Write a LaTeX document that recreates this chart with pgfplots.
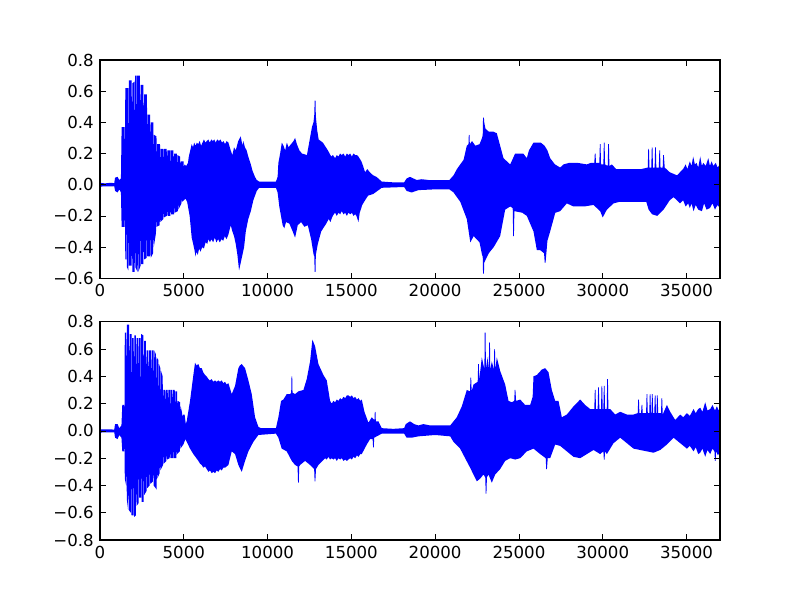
\documentclass[border=0pt]{standalone}
\usepackage{fontspec}
\setmainfont{DejaVu Sans}
\usepackage{pgfplots}
\usepgfplotslibrary{fillbetween}
\pgfplotsset{compat=1.18}
\usepackage{pgfplotstable}
\definecolor{mblue}{rgb}{0,0,1}

\pgfplotstableread{
x y
0 0.012
300 0.008
600 0.012
850 0.01
900 0.045
1050 0.05
1150 0.03
1250 0.04
1290 0.37
1470 0.37
1490 0.15
1510 0.62
1690 0.62
1710 0.20
1730 0.67
1890 0.67
1910 0.22
1930 0.65
2050 0.66
2070 0.25
2090 0.70
2170 0.70
2190 0.25
2200 0.70
2380 0.70
2400 0.25
2420 0.64
2590 0.64
2610 0.25
2630 0.58
2800 0.58
2820 0.22
2840 0.45
2990 0.45
3010 0.20
3030 0.40
3180 0.40
3200 0.18
3220 0.32
3370 0.31
3390 0.15
3410 0.26
3580 0.26
3600 0.12
3620 0.23
3780 0.23
3800 0.12
3820 0.23
3980 0.23
4000 0.12
4020 0.22
4180 0.22
4200 0.11
4220 0.22
4380 0.22
4400 0.10
4420 0.20
4580 0.20
4600 0.10
4620 0.19
4780 0.18
4800 0.09
4820 0.15
4990 0.15
5010 0.07
5030 0.13
5150 0.12
5250 0.14
5300 0.18
5473 0.26
5550 0.24
5620 0.27
5700 0.25
5780 0.27
5860 0.26
5950 0.28
6030 0.25
6120 0.27
6200 0.29
6290 0.27
6370 0.28
6467 0.29
6550 0.27
6640 0.29
6730 0.28
6820 0.29
6900 0.27
7000 0.29
7100 0.28
7190 0.29
7280 0.27
7370 0.28
7460 0.26
7560 0.28
7662 0.27
7800 0.22
7900 0.19
8000 0.24
8100 0.22
8250 0.28
8398 0.31
8500 0.25
8550 0.28
8650 0.24
8750 0.22
8850 0.18
9000 0.13
9100 0.09
9250 0.05
9354 0.03
9500 0.02
10000 0.02
10500 0.02
10600 0.05
10646 0.14
10750 0.20
10850 0.27
10950 0.25
11050 0.22
11150 0.27
11250 0.24
11400 0.26
11550 0.28
11642 0.30
11750 0.26
11900 0.22
12050 0.20
12350 0.19
12500 0.28
12650 0.37
12740 0.40
12790 0.45
12810 0.54
12860 0.54
12880 0.44
12960 0.35
13050 0.29
13300 0.27
13600 0.22
13700 0.20
13800 0.18
13900 0.19
14030 0.17
14130 0.19
14230 0.18
14330 0.20
14430 0.19
14530 0.20
14630 0.18
14730 0.20
14830 0.19
14930 0.20
15030 0.18
15130 0.20
15230 0.19
15330 0.19
15423 0.18
15600 0.15
15700 0.12
15821 0.08
15950 0.10
16100 0.08
16300 0.06
16500 0.05
16816 0.02
17500 0.015
18150 0.015
18300 0.04
18500 0.05
18700 0.04
18900 0.03
19200 0.035
19600 0.03
20000 0.03
20400 0.03
20850 0.03
21100 0.06
21300 0.10
21700 0.16
21890 0.25
21990 0.26
22010 0.32
22050 0.32
22070 0.26
22200 0.28
22400 0.25
22650 0.26
22800 0.30
22840 0.32
22860 0.43
22910 0.43
22930 0.40
23000 0.36
23200 0.34
23480 0.34
23680 0.33
23880 0.25
24080 0.17
24280 0.15
24480 0.13
24775 0.20
25000 0.20
25260 0.20
25470 0.17
25600 0.22
25870 0.27
26300 0.27
26530 0.25
26700 0.22
26865 0.17
27150 0.13
27460 0.11
27660 0.13
28000 0.14
28500 0.14
29050 0.13
29300 0.14
29500 0.14
29530 0.20
29570 0.20
29600 0.14
29800 0.14
29830 0.26
29870 0.26
29900 0.13
30040 0.13
30070 0.27
30110 0.27
30140 0.13
30300 0.12
30330 0.26
30370 0.26
30400 0.12
30550 0.13
30800 0.10
31500 0.10
32300 0.10
32690 0.11
32720 0.23
32760 0.23
32790 0.11
32900 0.11
32930 0.24
32970 0.24
33000 0.11
33100 0.11
33130 0.24
33170 0.24
33200 0.11
33350 0.11
33380 0.22
33420 0.22
33450 0.11
33580 0.11
33610 0.19
33650 0.19
33700 0.11
34000 0.08
34430 0.06
34800 0.10
34950 0.13
35050 0.10
35200 0.15
35300 0.12
35400 0.18
35500 0.13
35600 0.14
35700 0.11
35820 0.18
35920 0.12
36000 0.14
36150 0.12
36300 0.17
36400 0.12
36500 0.15
36600 0.12
36750 0.14
36850 0.11
37000 0.13
}\topU

\pgfplotstableread{
x y
0 -0.012
850 -0.01
900 -0.04
1050 -0.05
1150 -0.03
1250 -0.05
1290 -0.27
1470 -0.27
1490 -0.15
1510 -0.48
1570 -0.48
1590 -0.20
1610 -0.53
1690 -0.55
1710 -0.22
1730 -0.52
1890 -0.52
1910 -0.25
1930 -0.56
2070 -0.56
2090 -0.25
2110 -0.53
2250 -0.56
2270 -0.25
2290 -0.56
2420 -0.52
2440 -0.25
2460 -0.51
2590 -0.51
2610 -0.25
2630 -0.48
2780 -0.47
2800 -0.24
2820 -0.46
2990 -0.46
3010 -0.22
3030 -0.47
3170 -0.44
3190 -0.22
3210 -0.40
3340 -0.31
3360 -0.20
3380 -0.27
3560 -0.26
3580 -0.18
3600 -0.24
3780 -0.22
3800 -0.15
3820 -0.21
3990 -0.20
4010 -0.14
4030 -0.20
4200 -0.20
4220 -0.13
4240 -0.19
4420 -0.19
4440 -0.12
4460 -0.18
4640 -0.17
4660 -0.11
4680 -0.16
4860 -0.12
4880 -0.08
4900 -0.11
5100 -0.09
5200 -0.11
5350 -0.20
5473 -0.34
5560 -0.38
5640 -0.42
5700 -0.46
5760 -0.43
5830 -0.45
5920 -0.41
6000 -0.43
6100 -0.40
6200 -0.41
6300 -0.37
6400 -0.38
6467 -0.35
6560 -0.37
6650 -0.35
6750 -0.37
6850 -0.34
6950 -0.37
7050 -0.35
7150 -0.37
7250 -0.35
7350 -0.36
7450 -0.33
7550 -0.35
7662 -0.32
7800 -0.26
7900 -0.30
8000 -0.33
8100 -0.38
8200 -0.45
8300 -0.55
8400 -0.50
8500 -0.45
8600 -0.40
8700 -0.30
8850 -0.22
9000 -0.17
9150 -0.10
9354 -0.04
9500 -0.02
10500 -0.02
10600 -0.05
10700 -0.14
10900 -0.26
11000 -0.28
11100 -0.24
11300 -0.25
11500 -0.30
11642 -0.34
11800 -0.26
12000 -0.24
12200 -0.27
12400 -0.26
12600 -0.35
12750 -0.45
12790 -0.46
12810 -0.56
12860 -0.56
12880 -0.45
13000 -0.38
13200 -0.30
13500 -0.25
13650 -0.22
13750 -0.24
13850 -0.21
13950 -0.19
14030 -0.18
14130 -0.20
14230 -0.18
14330 -0.19
14430 -0.17
14530 -0.19
14630 -0.18
14730 -0.20
14830 -0.18
14930 -0.19
15030 -0.18
15130 -0.20
15230 -0.19
15300 -0.20
15423 -0.24
15500 -0.18
15650 -0.13
15820 -0.10
16000 -0.07
16300 -0.06
16816 -0.02
18150 -0.015
18300 -0.04
18600 -0.05
19000 -0.035
20000 -0.03
20850 -0.03
21100 -0.05
21500 -0.11
21890 -0.22
22100 -0.37
22300 -0.33
22650 -0.37
22800 -0.45
22840 -0.46
22860 -0.57
22910 -0.57
22930 -0.50
23200 -0.44
23500 -0.40
23880 -0.33
24180 -0.16
24480 -0.14
24630 -0.15
24660 -0.33
24700 -0.33
24730 -0.17
25200 -0.18
25470 -0.20
25870 -0.30
26070 -0.42
26270 -0.42
26500 -0.44
26540 -0.50
26590 -0.50
26700 -0.36
26865 -0.30
27170 -0.18
27460 -0.17
27860 -0.12
28260 -0.14
28900 -0.14
29450 -0.13
29850 -0.17
30000 -0.21
30250 -0.16
30650 -0.12
31000 -0.11
32600 -0.11
32740 -0.16
32950 -0.19
33250 -0.20
33630 -0.16
34000 -0.10
34230 -0.08
34620 -0.12
34800 -0.10
34950 -0.14
35100 -0.12
35200 -0.15
35300 -0.12
35420 -0.17
35550 -0.13
35700 -0.16
35920 -0.17
36050 -0.12
36200 -0.16
36400 -0.15
36550 -0.12
36700 -0.16
36850 -0.13
37000 -0.15
}\topL

\pgfplotstableread{
x y
0 0.012
850 0.01
900 0.05
1050 0.05
1150 0.02
1280 0.04
1330 0.19
1440 0.19
1460 0.12
1480 0.72
1560 0.72
1580 0.20
1600 0.78
1740 0.78
1760 0.20
1780 0.71
1880 0.71
1900 0.20
1920 0.68
2010 0.68
2030 0.20
2050 0.70
2140 0.70
2160 0.20
2180 0.68
2260 0.68
2280 0.20
2300 0.68
2420 0.68
2440 0.20
2460 0.71
2590 0.70
2610 0.20
2630 0.66
2740 0.66
2760 0.20
2780 0.59
2890 0.59
2910 0.20
2930 0.59
3040 0.59
3060 0.20
3080 0.59
3200 0.59
3220 0.20
3240 0.59
3340 0.56
3360 0.18
3380 0.54
3480 0.52
3500 0.18
3520 0.49
3600 0.46
3620 0.16
3640 0.44
3740 0.40
3760 0.15
3780 0.30
3900 0.30
3920 0.15
3940 0.30
4040 0.30
4060 0.15
4080 0.30
4180 0.30
4200 0.14
4220 0.30
4320 0.30
4340 0.14
4360 0.30
4460 0.30
4480 0.13
4500 0.29
4600 0.29
4620 0.12
4640 0.22
4780 0.21
4800 0.10
4820 0.18
4900 0.13
4920 0.08
4940 0.12
5050 0.12
5120 0.05
5174 0.07
5373 0.22
5572 0.41
5672 0.50
5760 0.48
5871 0.49
5960 0.46
6070 0.46
6160 0.43
6268 0.41
6360 0.40
6468 0.38
6560 0.37
6660 0.38
6760 0.36
6866 0.37
6960 0.36
7060 0.37
7160 0.36
7264 0.37
7360 0.35
7460 0.36
7560 0.34
7662 0.35
7861 0.27
8060 0.33
8258 0.46
8350 0.48
8458 0.49
8656 0.46
8856 0.37
9054 0.27
9254 0.10
9452 0.03
9600 0.02
10000 0.02
10500 0.02
10646 0.10
10806 0.22
10945 0.23
11144 0.27
11343 0.27
11410 0.28
11430 0.40
11470 0.40
11490 0.28
11642 0.27
11841 0.29
12140 0.30
12338 0.38
12537 0.51
12676 0.67
12836 0.62
13035 0.49
13333 0.41
13532 0.37
13731 0.22
13830 0.20
13930 0.22
14030 0.21
14130 0.23
14230 0.22
14330 0.24
14428 0.23
14530 0.25
14630 0.24
14730 0.26
14826 0.26
14930 0.25
15030 0.26
15130 0.24
15224 0.25
15330 0.23
15430 0.24
15530 0.22
15622 0.23
15781 0.14
16020 0.06
16218 0.10
16380 0.08
16400 0.14
16440 0.14
16460 0.07
16616 0.07
16816 0.02
17500 0.015
18150 0.02
18250 0.05
18500 0.07
18750 0.05
19000 0.04
19300 0.05
19700 0.04
20100 0.04
20500 0.04
20900 0.04
21293 0.10
21592 0.18
21890 0.30
22080 0.29
22110 0.39
22150 0.39
22180 0.29
22288 0.34
22540 0.36
22570 0.49
22610 0.49
22630 0.37
22786 0.54
22940 0.45
22960 0.72
23010 0.72
23030 0.45
23124 0.54
23200 0.45
23230 0.65
23270 0.65
23290 0.45
23383 0.51
23500 0.45
23530 0.60
23570 0.60
23590 0.45
23681 0.54
23880 0.44
24179 0.34
24378 0.22
24577 0.21
24720 0.22
24750 0.30
24790 0.30
24830 0.22
25074 0.23
25372 0.19
25671 0.19
25820 0.25
25870 0.40
26069 0.41
26368 0.45
26567 0.46
26766 0.43
26964 0.30
27164 0.22
27362 0.22
27562 0.10
27860 0.12
28258 0.18
28656 0.23
28954 0.19
29253 0.16
29500 0.16
29530 0.30
29570 0.30
29600 0.16
29700 0.16
29730 0.32
29770 0.32
29800 0.16
29900 0.16
29930 0.33
29970 0.33
30000 0.16
30040 0.16
30070 0.33
30110 0.33
30140 0.16
30240 0.16
30270 0.38
30310 0.38
30340 0.16
30447 0.16
30746 0.12
31044 0.14
31442 0.12
31840 0.12
32090 0.13
32120 0.23
32160 0.23
32190 0.13
32290 0.13
32320 0.19
32360 0.19
32390 0.13
32590 0.13
32620 0.27
32660 0.27
32690 0.13
32780 0.13
32810 0.27
32850 0.27
32880 0.13
32910 0.13
32940 0.27
32980 0.27
33010 0.13
33080 0.13
33110 0.26
33150 0.26
33180 0.13
33210 0.13
33240 0.26
33280 0.26
33310 0.13
33480 0.13
33510 0.24
33550 0.24
33580 0.12
33830 0.19
34029 0.14
34328 0.08
34626 0.12
34800 0.10
35024 0.13
35200 0.11
35422 0.16
35550 0.13
35700 0.16
35820 0.17
35950 0.14
36118 0.21
36250 0.15
36417 0.16
36550 0.19
36700 0.15
36815 0.18
36920 0.15
37000 0.17
}\botU

\pgfplotstableread{
x y
0 -0.012
850 -0.01
900 -0.05
1050 -0.06
1150 -0.03
1280 -0.05
1330 -0.15
1440 -0.15
1460 -0.10
1480 -0.35
1560 -0.40
1580 -0.20
1600 -0.50
1680 -0.58
1700 -0.22
1720 -0.58
1840 -0.60
1860 -0.25
1880 -0.62
2000 -0.62
2020 -0.25
2040 -0.63
2140 -0.62
2160 -0.25
2180 -0.55
2300 -0.53
2320 -0.25
2340 -0.49
2450 -0.49
2470 -0.25
2490 -0.52
2600 -0.52
2620 -0.24
2640 -0.47
2780 -0.44
2800 -0.23
2820 -0.42
2960 -0.40
2980 -0.22
3000 -0.39
3160 -0.37
3180 -0.20
3200 -0.40
3380 -0.43
3400 -0.20
3420 -0.35
3560 -0.31
3580 -0.18
3600 -0.29
3760 -0.25
3780 -0.15
3800 -0.24
3960 -0.22
3980 -0.14
4000 -0.21
4160 -0.20
4180 -0.13
4200 -0.20
4360 -0.20
4380 -0.12
4400 -0.20
4560 -0.20
4580 -0.11
4600 -0.17
4760 -0.15
4780 -0.09
4800 -0.13
4975 -0.10
5100 -0.06
5174 -0.08
5373 -0.13
5572 -0.17
5871 -0.22
5970 -0.24
6070 -0.25
6170 -0.27
6268 -0.26
6368 -0.28
6470 -0.30
6566 -0.29
6666 -0.31
6766 -0.30
6866 -0.31
6966 -0.29
7064 -0.30
7164 -0.28
7264 -0.29
7362 -0.27
7462 -0.27
7562 -0.26
7662 -0.25
7861 -0.15
8060 -0.17
8258 -0.25
8458 -0.30
8656 -0.22
8856 -0.15
9154 -0.08
9452 -0.03
10500 -0.02
10646 -0.05
10846 -0.13
11144 -0.15
11443 -0.22
11642 -0.25
11790 -0.26
11820 -0.38
11860 -0.38
11890 -0.26
11940 -0.25
12239 -0.22
12537 -0.25
12780 -0.28
12810 -0.37
12850 -0.37
12890 -0.28
13035 -0.25
13432 -0.20
13530 -0.21
13630 -0.19
13730 -0.21
13830 -0.20
13930 -0.21
14030 -0.20
14130 -0.22
14230 -0.20
14330 -0.21
14430 -0.20
14530 -0.22
14630 -0.21
14730 -0.22
14826 -0.21
14930 -0.20
15030 -0.21
15130 -0.19
15230 -0.20
15330 -0.18
15430 -0.19
15530 -0.17
15622 -0.17
15920 -0.10
16118 -0.06
16270 -0.06
16300 -0.12
16340 -0.12
16360 -0.05
16516 -0.04
16816 -0.02
18150 -0.02
18300 -0.05
18600 -0.05
19000 -0.04
20000 -0.03
20900 -0.04
21094 -0.08
21492 -0.13
21790 -0.20
22089 -0.27
22288 -0.32
22487 -0.37
22686 -0.35
22885 -0.32
22990 -0.34
23020 -0.46
23060 -0.46
23090 -0.34
23184 -0.32
23383 -0.38
23582 -0.32
23880 -0.28
24179 -0.22
24477 -0.20
24776 -0.21
25074 -0.20
25472 -0.15
25870 -0.13
26268 -0.17
26600 -0.20
26630 -0.28
26670 -0.28
26720 -0.20
26865 -0.20
27164 -0.10
27462 -0.11
27860 -0.15
28258 -0.19
28656 -0.20
29054 -0.17
29452 -0.14
29850 -0.17
30040 -0.15
30070 -0.21
30110 -0.21
30140 -0.15
30248 -0.17
30646 -0.09
31044 -0.05
31442 -0.09
31840 -0.13
32238 -0.14
32636 -0.15
33034 -0.16
33432 -0.14
33830 -0.10
34228 -0.05
34626 -0.09
35024 -0.13
35200 -0.11
35422 -0.15
35550 -0.12
35700 -0.17
35820 -0.16
35950 -0.13
36118 -0.19
36250 -0.14
36417 -0.17
36550 -0.13
36670 -0.15
36700 -0.22
36740 -0.22
36760 -0.15
36880 -0.18
37000 -0.15
}\botL

\pgfplotsset{
  wave/.style={
    scale only axis,
    width=6.2in, height=2.182in,
    xmin=0, xmax=37000,
    scaled x ticks=false,
    scaled y ticks=false,
    xtick={0,5000,10000,15000,20000,25000,30000,35000},
    xticklabels={0,5000,10000,15000,20000,25000,30000,35000},
    tick align=inside,
    major tick length=4bp,
    minor tick num=0,
    tick style={black, line width=0.5bp},
    axis line style={black, line width=1bp},
    ticklabel style={font=\fontsize{12}{14}\selectfont},
    xticklabel style={yshift=-1bp},
    yticklabel style={xshift=-1bp},
    axis on top,
  }
}

\begin{document}
\begin{tikzpicture}
\path (0,0) rectangle (8in,6in);
\begin{axis}[wave, at={(1in,3.218in)}, anchor=south west,
  ymin=-0.6, ymax=0.8,
  ytick={-0.6,-0.4,-0.2,0,0.2,0.4,0.6,0.8},
  yticklabels={−0.6,−0.4,−0.2,0.0,0.2,0.4,0.6,0.8}]
\addplot[draw=none, name path=U1] table {\topU};
\addplot[draw=none, name path=L1] table {\topL};
\addplot[fill=mblue, draw=none] fill between[of=U1 and L1];
\end{axis}
\begin{axis}[wave, at={(1in,0.6in)}, anchor=south west,
  ymin=-0.8, ymax=0.8,
  ytick={-0.8,-0.6,-0.4,-0.2,0,0.2,0.4,0.6,0.8},
  yticklabels={−0.8,−0.6,−0.4,−0.2,0.0,0.2,0.4,0.6,0.8}]
\addplot[draw=none, name path=U2] table {\botU};
\addplot[draw=none, name path=L2] table {\botL};
\addplot[fill=mblue, draw=none] fill between[of=U2 and L2];
\end{axis}
\end{tikzpicture}
\end{document}
